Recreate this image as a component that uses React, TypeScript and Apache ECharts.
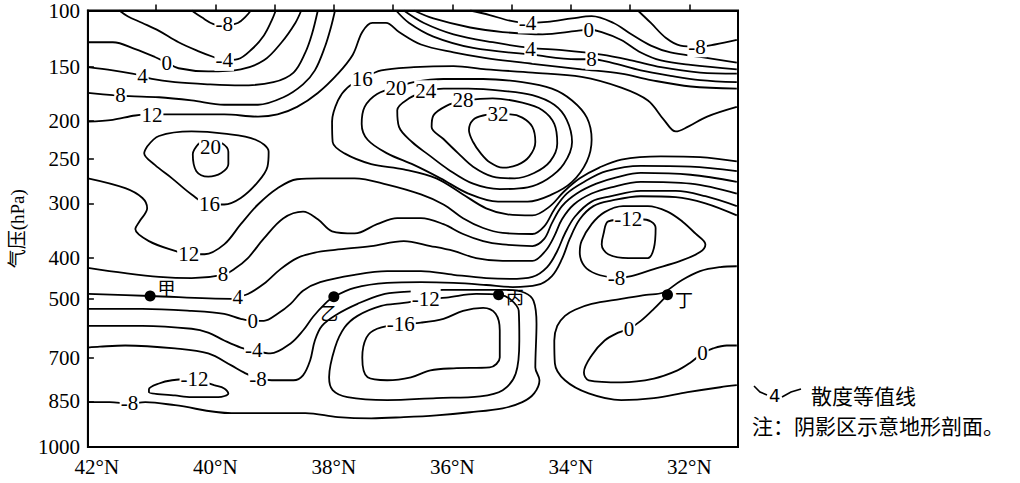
import React, { useEffect, useRef } from "react";
import * as echarts from "echarts";

type Pt = [number, number]; // [latitude °N, pressure hPa]

// Hand-drawn, non-linear pressure axis: level and its relative position on the axis
const PRESSURE_LEVELS = [100, 150, 200, 250, 300, 400, 500, 700, 850, 1000];
const LEVEL_POS = [0, 57, 111, 149, 194, 249, 290, 349, 393, 439];
const LAT_LABELS = [42, 40, 38, 36, 34, 32];
const LAT_TICKS = [41, 40, 39, 38, 37, 36, 35, 34, 33, 32];
const P_TICKS = [150, 200, 250, 300, 400, 500, 700, 850];

// ---- divergence isolines (lat, hPa) ----
const C_M8_TL: Pt[] = [[40.4,100],[40.23,106],[40.03,112],[39.85,113],[39.62,111],[39.48,105],[39.4,100]];
const C_M4_TL: Pt[] = [[41.62,100],[41.48,105],[41.23,111],[40.95,118],[40.62,128],[40.28,136],[40.03,141],[39.85,144],[39.62,143],[39.38,134],[39.18,122],[39.05,109],[38.98,100]];
const C_0_TL: Pt[] = [[42.15,128],[41.73,128],[41.35,134],[41.02,141],[40.82,146],[40.62,151],[40.12,154],[39.57,152],[39.18,144],[38.88,128],[38.65,111],[38.55,100]];
const C_4_TL: Pt[] = [[42.15,150],[41.73,153],[41.4,156],[41.23,158],[41.07,161],[40.68,164],[40.12,166],[39.57,167],[39.02,164],[38.68,155],[38.48,137],[38.37,121],[38.27,100]];
const C_8_TL: Pt[] = [[42.15,174],[41.73,176],[41.45,177],[40.95,178],[40.4,181],[39.85,185],[39.28,185],[38.85,178],[38.52,166],[38.32,153],[38.15,132],[38.05,115],[37.98,100]];
const C_12_TOP: Pt[] = [[42.15,201],[41.73,199],[41.35,195],[40.98,194],[40.4,194],[39.85,194],[39.28,196],[38.95,194],[38.62,187],[38.27,174],[37.93,156],[37.68,139],[37.52,119],[37.35,111],[37.12,111],[36.9,119],[36.53,130],[35.98,137],[35.43,142],[34.65,147],[33.82,152],[33.15,156],[32.65,162],[31.98,168],[31.2,170]];
const C_8_TR: Pt[] = [[36.95,100],[36.73,111],[36.32,123],[35.65,133],[34.65,139],[33.9,143],[33.65,143],[33.32,146],[32.82,153],[32.32,158],[31.82,162],[31.2,164]];
const C_4_TR: Pt[] = [[36.82,100],[36.48,111],[35.98,121],[35.32,128],[34.68,133],[34.15,135],[33.48,139],[32.98,144],[32.48,150],[31.82,155],[31.2,156]];
const C_0_TR: Pt[] = [[36.65,100],[36.32,107],[35.7,115],[35.15,119],[34.48,121],[33.9,118],[33.7,117],[33.48,119],[33.15,126],[32.82,137],[32.48,144],[31.98,148],[31.2,152]];
const C_M4_TR: Pt[] = [[35.7,100],[35.37,104],[35.03,109],[34.73,111],[34.4,110],[33.98,107],[33.65,105],[33.28,111],[32.98,121],[32.65,131],[32.32,137],[31.82,141],[31.2,146]];
const C_M8_TR: Pt[] = [[32.87,100],[32.65,111],[32.4,124],[32.15,131],[31.87,132],[31.57,130],[31.2,126]];
const C_16_LEFT: Pt[] = [[41.15,234],[40.95,220],[40.4,214],[39.85,217],[39.32,225],[39.1,241],[39.12,259],[39.28,276],[39.57,294],[39.85,302],[40.1,302],[40.4,290],[40.73,272],[41.02,257],[41.2,243],[41.15,234]];
const C_20_LEFT: Pt[] = [[40.28,230],[40.38,244],[40.32,264],[40.12,270],[39.9,266],[39.78,256],[39.78,241],[39.9,229],[40.1,226],[40.28,230]];
const C_16_MAIN: Pt[] = [[31.2,187],[31.7,196],[32.03,208],[32.23,214],[32.43,199],[32.7,181],[33.15,169],[33.82,159],[34.65,155],[35.43,152],[35.98,149],[36.65,150],[37.2,153],[37.52,161],[37.77,169],[37.93,181],[38.03,201],[38.02,228],[37.82,243],[37.37,256],[36.82,262],[36.27,272],[35.82,290],[35.43,309],[35.07,320],[34.65,322],[34.35,305],[34.12,287],[33.85,272],[33.52,260],[33.15,251],[32.48,247],[31.82,248],[31.2,253]];
const C_20_MAIN: Pt[] = [[36.95,169],[37.27,175],[37.48,187],[37.53,204],[37.43,225],[37.1,243],[36.65,257],[36.2,272],[35.73,289],[35.23,298],[34.73,298],[34.32,290],[33.98,276],[33.73,253],[33.65,225],[33.73,197],[33.98,181],[34.32,170],[34.82,164],[35.48,161],[36.15,161],[36.65,164],[36.95,169]];
const C_24: Pt[] = [[36.45,172],[36.73,179],[36.93,190],[36.9,208],[36.68,228],[36.4,245],[36.07,262],[35.65,278],[35.2,284],[34.73,282],[34.4,273],[34.12,256],[33.98,228],[34.07,199],[34.28,185],[34.65,176],[35.15,172],[35.73,170],[36.15,170],[36.45,172]];
const C_28: Pt[] = [[35.82,181],[36.1,186],[36.32,195],[36.35,208],[36.15,224],[35.9,243],[35.65,259],[35.32,270],[34.95,272],[34.62,266],[34.35,253],[34.23,230],[34.28,204],[34.48,190],[34.82,183],[35.32,179],[35.82,181]];
const C_32: Pt[] = [[35.23,194],[35.48,195],[35.65,199],[35.72,212],[35.65,228],[35.52,243],[35.37,254],[35.15,260],[34.9,257],[34.7,247],[34.6,228],[34.65,208],[34.82,197],[35.02,194],[35.23,194]];
const C_12_LOW: Pt[] = [[42.15,272],[41.52,283],[41.23,294],[41.15,309],[41.28,333],[41.35,347],[41.12,369],[40.68,387],[40.45,393],[40.18,393],[39.85,375],[39.57,338],[39.28,302],[38.95,283],[38.62,273],[38.23,272],[37.65,272],[37.1,279],[36.53,290],[36.15,302],[35.82,327],[35.48,345],[35.15,354],[34.65,356],[34.45,342],[34.28,311],[34.07,289],[33.78,276],[33.4,264],[32.82,258],[31.98,259],[31.2,264]];
const C_8_LOW: Pt[] = [[42.15,424],[41.52,437],[40.95,446],[40.4,449],[39.87,441],[39.68,427],[39.45,400],[39.18,364],[38.85,327],[38.52,315],[38.27,329],[38.03,351],[37.65,355],[37.27,338],[36.93,327],[36.53,327],[36.15,338],[35.82,356],[35.48,369],[35.15,375],[34.65,378],[34.45,365],[34.32,336],[34.15,305],[33.9,289],[33.57,278],[33.23,271],[32.82,266],[31.98,268],[31.2,276]];
const C_4_LOW: Pt[] = [[42.15,488],[41.1,493],[39.73,500],[39.62,495],[39.45,488],[39.18,463],[38.9,427],[38.62,400],[38.32,390],[37.98,385],[37.37,378],[36.82,369],[36.37,378],[35.98,387],[35.6,400],[35.15,407],[34.65,407],[34.43,387],[34.28,360],[34.15,329],[33.95,302],[33.65,289],[33.32,282],[32.82,276],[31.98,278],[31.2,289]];
const C_0_LOW: Pt[] = [[42.15,534],[41.23,534],[40.4,541],[39.85,551],[39.57,568],[39.37,575],[39.18,575],[38.95,551],[38.73,517],[38.52,480],[38.23,459],[37.65,441],[37.1,432],[36.53,432],[35.98,441],[35.43,449],[35.03,451],[34.65,446],[34.4,422],[34.23,387],[34.1,355],[33.93,324],[33.65,298],[33.32,292],[32.82,286],[32.23,286],[31.73,292],[31.2,305]];
const C_M4_MID: Pt[] = [[42.15,592],[41.23,592],[40.4,602],[40.12,615],[39.85,642],[39.57,666],[39.35,676],[39.07,686],[38.73,652],[38.52,608],[38.35,561],[38.15,517],[38.0,495],[37.65,473],[37.1,461],[36.53,459],[35.98,461],[35.43,466],[34.98,471],[34.57,466],[34.32,444],[34.15,402],[34.02,365],[33.85,329],[33.62,305],[33.32,297],[32.82,292],[32.23,293],[31.73,300],[31.2,322]];
const C_M8_BASIN: Pt[] = [[42.15,666],[41.95,663],[41.52,659],[40.68,669],[40.12,686],[39.73,727],[39.52,751],[39.28,772],[38.95,778],[38.68,778],[38.52,761],[38.4,710],[38.32,642],[38.2,592],[37.93,551],[37.6,517],[37.2,490],[36.82,483],[36.15,478],[35.48,478],[35.07,478],[34.78,485],[34.63,507],[34.58,585],[34.6,734],[34.53,778],[34.62,823],[34.82,853],[35.15,873],[35.7,886],[36.27,896],[36.82,902],[37.37,906],[37.93,902],[38.48,889],[39.02,889],[39.73,889],[40.68,863],[41.18,853],[41.45,857],[41.78,853],[42.15,853]];
const C_M12_BASIN: Pt[] = [[36.45,500],[36.82,514],[37.2,524],[37.6,558],[37.82,598],[37.98,666],[38.08,768],[38.02,812],[37.77,836],[37.1,846],[36.27,839],[35.53,833],[35.15,812],[34.93,755],[34.87,642],[34.88,541],[35.03,500],[35.2,490],[35.6,488],[36.1,497],[36.45,500]];
const C_M16: Pt[] = [[36.87,585],[36.53,581],[36.15,568],[35.82,541],[35.48,531],[35.27,551],[35.2,608],[35.2,700],[35.37,734],[35.98,737],[36.37,744],[36.7,768],[37.1,778],[37.43,768],[37.52,700],[37.45,632],[37.27,602],[36.87,585]];
const C_M12_SMALL: Pt[] = [[40.35,772],[40.02,795],[39.85,806],[39.78,823],[39.95,836],[40.4,836],[40.68,830],[41.12,819],[41.12,809],[40.95,789],[40.73,778],[40.35,772]];
const C_M12_RIGHT: Pt[] = [[33.03,329],[33.37,333],[33.45,356],[33.48,375],[33.37,393],[33.03,400],[32.7,400],[32.6,382],[32.57,345],[32.65,333],[32.82,329],[33.03,329]];
const C_M8_RIGHT: Pt[] = [[33.23,449],[33.57,439],[33.77,420],[33.85,390],[33.82,369],[33.65,338],[33.43,316],[33.12,305],[32.7,305],[32.37,315],[32.12,333],[31.9,355],[31.73,375],[31.82,389],[32.15,407],[32.6,427],[32.98,444],[33.23,449]];
const C_M4_U: Pt[] = [[31.2,420],[31.48,422],[31.82,432],[32.15,456],[32.45,485],[32.73,490],[33.15,500],[33.65,517],[33.93,537],[34.1,558],[34.23,592],[34.28,642],[34.27,720],[34.1,778],[33.7,823],[33.15,846],[32.6,839],[32.03,819],[31.48,802],[31.2,795]];
const C_0_U: Pt[] = [[32.37,490],[32.6,534],[32.82,575],[33.02,602],[33.2,615],[33.43,642],[33.65,693],[33.78,751],[33.7,778],[33.15,785],[32.6,772],[32.2,744],[31.98,717],[31.78,686],[31.6,669],[31.37,659],[31.2,659]];

const CONTOURS: Pt[][] = [
  C_M8_TL, C_M4_TL, C_0_TL, C_4_TL, C_8_TL, C_12_TOP, C_8_TR, C_4_TR, C_0_TR, C_M4_TR, C_M8_TR,
  C_16_LEFT, C_20_LEFT, C_16_MAIN, C_20_MAIN, C_24, C_28, C_32, C_12_LOW, C_8_LOW, C_4_LOW, C_0_LOW,
  C_M4_MID, C_M8_BASIN, C_M12_BASIN, C_M16, C_M12_SMALL, C_M12_RIGHT, C_M8_RIGHT, C_M4_U, C_0_U,
];

// isoline value labels: [lat, hPa, text]
const CONTOUR_LABELS: [number, number, string][] = [
  [39.85,112,"-8"],[39.85,144,"-4"],[40.82,146,"0"],[41.23,158,"4"],[41.6,176,"8"],[41.07,195,"12"],
  [40.08,234,"20"],[40.1,302,"16"],[40.45,393,"12"],[39.87,439,"8"],[39.62,495,"4"],[39.37,575,"0"],
  [39.35,676,"-4"],[39.28,772,"-8"],[40.35,772,"-12"],[41.45,857,"-8"],
  [37.52,161,"16"],[36.95,169,"20"],[36.45,172,"24"],[35.82,181,"28"],[35.23,194,"32"],
  [34.73,111,"-4"],[33.7,117,"0"],[34.68,134,"4"],[33.65,143,"8"],[31.87,132,"-8"],
  [36.45,500,"-12"],[36.87,585,"-16"],[33.03,329,"-12"],[33.23,449,"-8"],[33.02,602,"0"],[31.78,686,"0"],
];

const STATION_NAMES = ["甲", "乙", "丙", "丁"];
const STATION_LAT = [41.1, 38.0, 35.22, 32.37];
const STATION_P = [493, 495, 490, 490];

function pToAxis(p: number): number {
  const n = PRESSURE_LEVELS.length;
  for (let i = 0; i < n - 1; i++) {
    const a = PRESSURE_LEVELS[i];
    const b = PRESSURE_LEVELS[i + 1];
    if (p <= b || i === n - 2) {
      const t = (p - a) / (b - a);
      return LEVEL_POS[i] + t * (LEVEL_POS[i + 1] - LEVEL_POS[i]);
    }
  }
  return 0;
}

const SERIF = "'Liberation Serif', 'Times New Roman', 'Noto Sans CJK SC', serif";
const CJK = "'Noto Sans CJK SC', sans-serif";

export default function App() {
  const ref = useRef<HTMLDivElement>(null);
  useEffect(() => {
    if (!ref.current) return;
    const chart = echarts.init(ref.current, undefined, { renderer: "svg" });

    const lineSeries = CONTOURS.map((pts) => ({
      type: "line",
      data: pts.map(([lat, p]) => [lat, pToAxis(p)]),
      smooth: 0.35,
      showSymbol: false,
      symbol: "none",
      silent: true,
      lineStyle: { color: "#000", width: 1.8, opacity: 1 },
      z: 2,
    }));

    const labelSeries = {
      type: "scatter",
      silent: true,
      symbol: "rect",
      symbolSize: 1,
      itemStyle: { color: "#fff", opacity: 1 },
      emphasis: { disabled: true },
      z: 5,
      data: CONTOUR_LABELS.map(([lat, p, t]) => ({ value: [lat, pToAxis(p)], name: t })),
      label: {
        show: true,
        position: "top",
        distance: -11,
        formatter: (q: any) => q.name,
        fontSize: 21,
        lineHeight: 21,
        fontFamily: SERIF,
        color: "#000",
        opacity: 1,
        textBorderWidth: 0,
        backgroundColor: "#fff",
        padding: [0, 1],
      },
    };

    const stationOffsets = [[-3, -9], [-24, 15], [-3, 1], [-3, 4]];
    const stationSeries = {
      type: "scatter",
      silent: true,
      symbol: "circle",
      symbolSize: 11,
      itemStyle: { color: "#000", opacity: 1 },
      emphasis: { disabled: true },
      z: 6,
      data: STATION_NAMES.map((nm, i) => ({
        value: [STATION_LAT[i], pToAxis(STATION_P[i])],
        name: nm,
        label: { offset: stationOffsets[i] },
      })),
      label: {
        show: true,
        position: "right",
        formatter: (q: any) => q.name,
        fontSize: 18,
        fontFamily: CJK,
        color: "#000",
        opacity: 1,
        textBorderWidth: 0,
      },
    };

    const option: any = {
      animation: false,
      backgroundColor: "#fff",
      grid: { left: 80, right: 282, top: 8, bottom: 36, show: true, borderColor: "#000", borderWidth: 2, backgroundColor: "transparent" },
      xAxis: {
        type: "value",
        min: 31.18,
        max: 42.15,
        inverse: true,
        axisLine: { show: true, lineStyle: { color: "#000", width: 2 } },
        axisTick: { show: true, inside: true, length: 6, customValues: LAT_TICKS, lineStyle: { color: "#000", width: 1.5 } },
        axisLabel: { customValues: LAT_LABELS, formatter: (v: number) => `${v}°N`, fontSize: 21, fontFamily: SERIF, color: "#000", margin: 9 },
        splitLine: { show: false },
      },
      yAxis: {
        type: "value",
        min: 0,
        max: 439,
        inverse: true,
        name: "气压(hPa)",
        nameLocation: "middle",
        nameGap: 60,
        nameRotate: 90,
        nameTextStyle: { fontSize: 19, fontFamily: SERIF, color: "#000" },
        axisLine: { show: true, lineStyle: { color: "#000", width: 2 } },
        axisTick: { show: true, inside: true, length: 6, customValues: P_TICKS.map(pToAxis), lineStyle: { color: "#000", width: 1.5 } },
        axisLabel: {
          customValues: LEVEL_POS,
          formatter: (v: number) => {
            const i = LEVEL_POS.findIndex((x) => Math.abs(x - v) < 0.5);
            return i >= 0 ? String(PRESSURE_LEVELS[i]) : "";
          },
          fontSize: 21,
          fontFamily: SERIF,
          color: "#000",
          margin: 8,
        },
        splitLine: { show: false },
      },
      graphic: [
        { type: "polyline", shape: { points: [[754, 386], [760, 392], [767, 395]] }, style: { stroke: "#000", lineWidth: 1.6, fill: null } },
        { type: "text", x: 769, y: 395, style: { text: "4", fontSize: 18, fontFamily: "'DejaVu Sans', sans-serif", fill: "#000", verticalAlign: "middle" } },
        { type: "polyline", shape: { points: [[782, 397], [791, 392], [801, 389]] }, style: { stroke: "#000", lineWidth: 1.6, fill: null } },
        { type: "text", x: 811, y: 395, style: { text: "散度等值线", fontSize: 21, fontFamily: CJK, fill: "#000", verticalAlign: "middle" } },
        { type: "text", x: 752, y: 425, style: { text: "注：阴影区示意地形剖面。", fontSize: 21, fontFamily: CJK, fill: "#000", verticalAlign: "middle" } },
      ],
      series: [...lineSeries, labelSeries, stationSeries],
    };
    chart.setOption(option);
    return () => chart.dispose();
  }, []);
  return <div ref={ref} style={{ position: "fixed", left: 0, top: 0, width: 1020, height: 483 }} />;
}
